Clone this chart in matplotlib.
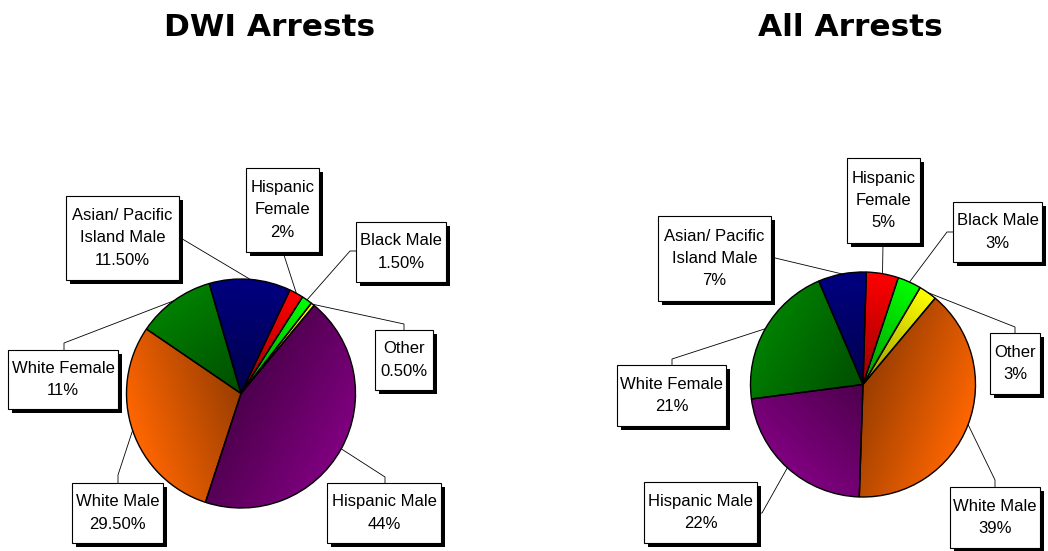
import numpy as np
import matplotlib
matplotlib.use("Agg")
import matplotlib.pyplot as plt
from matplotlib.patches import Rectangle
from matplotlib.colors import to_rgb

# ---------------- data ----------------
dwi_categories = ["Hispanic Male", "White Male", "White Female",
                  "Asian/ Pacific\nIsland Male", "Hispanic\nFemale",
                  "Black Male", "Other"]
dwi_values = [44, 29.5, 11, 11.5, 2, 1.5, 0.5]
dwi_pct_labels = ["44%", "29.50%", "11%", "11.50%", "2%", "1.50%", "0.50%"]
dwi_colors = ["#800080", "#FF6600", "#008000", "#000080",
              "#FF0000", "#00FF00", "#FFFF00"]

all_categories = ["White Male", "Hispanic Male", "White Female",
                  "Asian/ Pacific\nIsland Male", "Hispanic\nFemale",
                  "Black Male", "Other"]
all_values = [39.4, 22.4, 20.6, 6.9, 4.6, 3.4, 2.6]
all_pct_labels = ["39%", "22%", "21%", "7%", "5%", "3%", "3%"]
all_colors = ["#FF6600", "#800080", "#008000", "#000080",
              "#FF0000", "#00FF00", "#FFFF00"]

titles = ["DWI Arrests", "All Arrests"]

# ---------------- layout (pixels, origin top-left) ----------------
W, H = 1048, 551
dwi_geom = dict(cx=241, cy=393.5, r=114.5, start=50.3, title_x=270)
all_geom = dict(cx=863, cy=384.5, r=112.5, start=50.1, title_x=850)

dwi_layout = [
    ((327, 483, 441, 543), [(385, 477), (385, 483)]),
    ((72, 483, 163, 543), [(118, 475), (118, 483)]),
    ((8, 350, 118, 409), [(64, 343), (64, 350)]),
    ((66, 196, 179, 280), [(179, 237)]),
    ((246, 168, 319, 252), [(283, 252)]),
    ((356, 222, 446, 282), [(350, 251), (356, 251)]),
    ((375, 330, 433, 390), [(404, 324), (404, 330)]),
]
all_layout = [
    ((950, 487, 1040, 548), [(995, 480), (995, 487)]),
    ((644, 482, 757, 543), [(762, 513), (757, 513)]),
    ((617, 365, 726, 426), [(672, 359), (672, 365)]),
    ((658, 216, 771, 301), [(771, 257)]),
    ((847, 158, 920, 243), [(883, 243)]),
    ((953, 202, 1042, 262), [(947, 232), (953, 232)]),
    ((990, 333, 1040, 394), [(1015, 327), (1015, 333)]),
]

fig = plt.figure(figsize=(W / 100, H / 100), dpi=100)
ax = fig.add_axes([0, 0, 1, 1])


def shade(wedges, colors, cx, cy, r):
    n = 400
    xs = np.linspace(cx - r, cx + r, n)
    ys = np.linspace(cy - r, cy + r, n)
    X, Y = np.meshgrid(xs, ys)
    for w, c in zip(wedges, colors):
        mid = np.deg2rad((w.theta1 + w.theta2) / 2)
        t = ((X - cx) * np.cos(mid) + (Y - cy) * np.sin(mid)) / r
        t = np.clip(t, 0, 1)
        bright = np.array(to_rgb(c))
        dark = bright * 0.6
        img = dark + (bright - dark) * t[..., None]
        im = ax.imshow(img, extent=(cx - r, cx + r, cy - r, cy + r),
                       origin="lower", interpolation="bilinear", zorder=1)
        im.set_clip_path(w)
        w.set_facecolor("none")
        w.set_zorder(2)


def draw_pie(values, colors, cats, pcts, geom, layout, title):
    cx, cy, r = geom["cx"], H - geom["cy"], geom["r"]
    wedges, _ = ax.pie(values, colors=colors, startangle=geom["start"],
                       counterclock=False, center=(cx, cy), radius=r,
                       wedgeprops=dict(edgecolor="black", linewidth=1.0),
                       frame=True)
    shade(wedges, colors, cx, cy, r)
    for w, cat, pct, (box, pts) in zip(wedges, cats, pcts, layout):
        mid = np.deg2rad((w.theta1 + w.theta2) / 2)
        ax_ = cx + r * np.cos(mid)
        ay_ = cy + r * np.sin(mid)
        xs = [ax_] + [p[0] for p in pts]
        ys = [ay_] + [H - p[1] for p in pts]
        ax.plot(xs, ys, color="black", lw=0.6, zorder=3,
                solid_capstyle="butt")
        x0, y0, x1, y1 = box
        ax.add_patch(Rectangle((x0 + 4, H - y1 - 4), x1 - x0, y1 - y0,
                               facecolor="black", edgecolor="none", zorder=4))
        ax.add_patch(Rectangle((x0, H - y1), x1 - x0, y1 - y0,
                               facecolor="white", edgecolor="black",
                               lw=0.8, zorder=5))
        ax.text((x0 + x1) / 2, H - (y0 + y1) / 2, f"{cat}\n{pct}",
                ha="center", va="center", multialignment="center",
                fontsize=12, family="Liberation Sans", linespacing=1.6,
                zorder=6)
    ax.text(geom["title_x"], H - 36, title, ha="center", va="baseline",
            fontsize=22.5, fontweight="bold", family="DejaVu Sans")


draw_pie(dwi_values, dwi_colors, dwi_categories, dwi_pct_labels,
         dwi_geom, dwi_layout, titles[0])
draw_pie(all_values, all_colors, all_categories, all_pct_labels,
         all_geom, all_layout, titles[1])

ax.set_xlim(0, W)
ax.set_ylim(0, H)
ax.set_aspect("auto")
ax.axis("off")
fig.savefig("out.png", dpi=100, facecolor="white")
